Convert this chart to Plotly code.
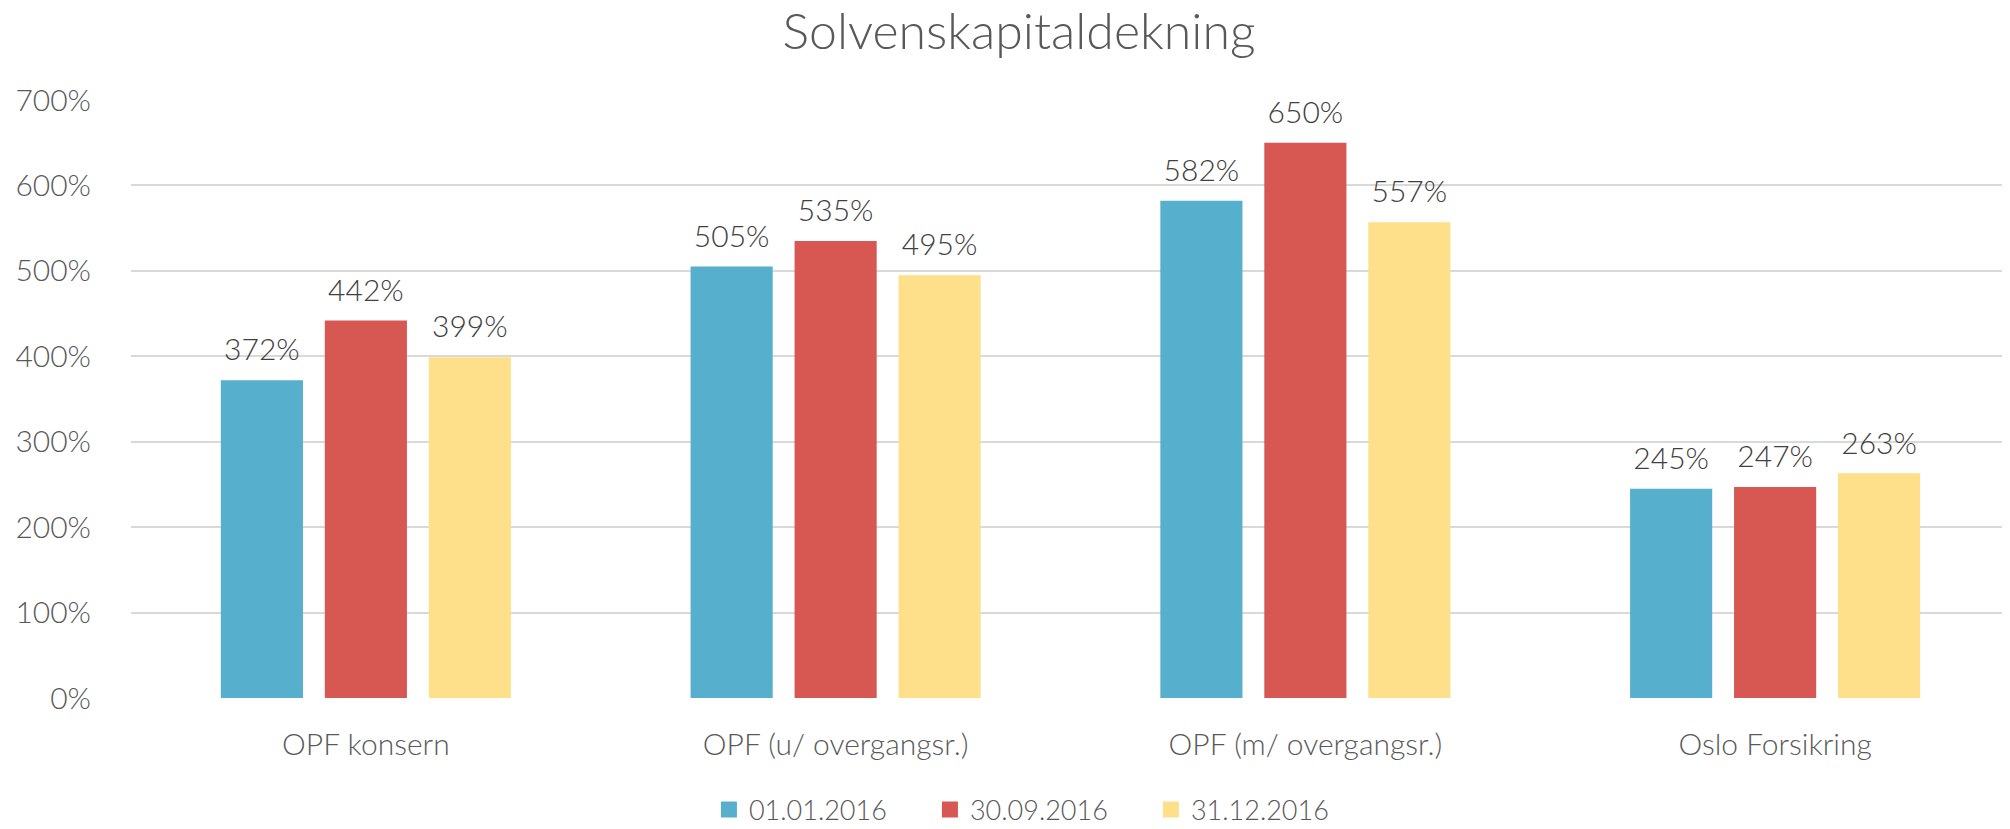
import plotly.graph_objects as go

categories = ["OPF konsern", "OPF (u/ overgangsr.)", "OPF (m/ overgangsr.)", "Oslo Forsikring"]
series_names = ["01.01.2016", "30.09.2016", "31.12.2016"]
values_0101 = [372, 505, 582, 245]
values_3009 = [442, 535, 650, 247]
values_3112 = [399, 495, 557, 263]
tick_vals = [0, 100, 200, 300, 400, 500, 600, 700]
tick_text = ["0%", "100%", "200%", "300%", "400%", "500%", "600%", "700%"]

colors = ["#56B0CD", "#D75853", "#FEDF8A"]
series = [values_0101, values_3009, values_3112]
FONT = "Lato"
W = 300

fig = go.Figure()
for i, (name, vals) in enumerate(zip(series_names, series)):
    fig.add_trace(go.Bar(
        x=categories, y=vals, name=name, marker_color=colors[i],
        marker_line_width=0, offsetgroup=str(i), hoverinfo="skip",
        showlegend=False,
    ))
for i, vals in enumerate(series):
    fig.add_trace(go.Scatter(
        x=categories, y=vals, mode="markers+text",
        text=[f"{v}%" for v in vals], textposition="top center",
        marker=dict(size=18, opacity=0), offsetgroup=str(i),
        textfont=dict(family=FONT, size=30, color="#404040", weight=W),
        showlegend=False, hoverinfo="skip", cliponaxis=False,
    ))
# legend entries (square swatches)
for i, name in enumerate(series_names):
    fig.add_trace(go.Scatter(
        x=[None], y=[None], mode="markers", name=name,
        marker=dict(symbol="square", size=20, color=colors[i]),
        showlegend=True, hoverinfo="skip",
    ))

fig.update_layout(
    width=2002, height=821,
    paper_bgcolor="white", plot_bgcolor="white",
    margin=dict(l=123, r=0, t=92, b=131, autoexpand=False),
    barmode="group", bargap=0.336, bargroupgap=0.21,
    scattermode="group", scattergap=0.336,
    font=dict(family=FONT, size=30, color="#595959", weight=W),
    title=dict(text="Solvenskapitaldekning", x=0.505, xanchor="center",
               y=0.971, yanchor="middle",
               font=dict(family=FONT, size=50, color="#595959", weight=W)),
    legend=dict(orientation="h", x=0.484, xanchor="center", y=-0.187, yanchor="middle",
                font=dict(family=FONT, size=27, color="#595959", weight=W), itemwidth=30,
                entrywidth=176, entrywidthmode="pixels",
                itemsizing="trace", traceorder="normal", tracegroupgap=0),
    showlegend=True,
)
fig.update_yaxes(range=[0, 700], tickvals=tick_vals, ticktext=tick_text,
                 showgrid=True, gridcolor="#D9D9D9", gridwidth=2,
                 zeroline=False, showline=False, ticks="", ticklabelstandoff=39,
                 automargin=False,
                 tickfont=dict(family=FONT, size=30, color="#595959", weight=W))
fig.update_xaxes(showgrid=False, zeroline=False, showline=False, ticks="",
                 ticklabelstandoff=26, automargin=False,
                 tickfont=dict(family=FONT, size=30, color="#595959", weight=W))

fig.write_html("out.html")
